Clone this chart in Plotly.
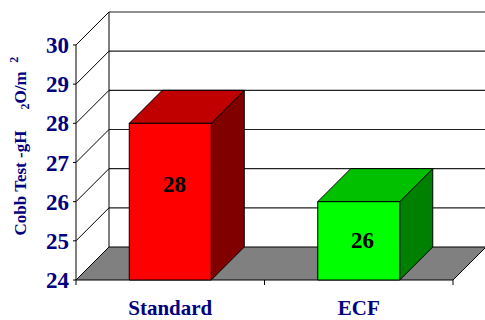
import plotly.graph_objects as go

# ---- data ----
categories = ["Standard", "ECF"]
values = [28, 26]
value_labels = ["28", "26"]
y_ticks = [24, 25, 26, 27, 28, 29, 30]
y_min, y_max = 24, 30
label_offsets = [0.43, 0.0]   # label lift above face midpoint (value units)

front_colors = ["#FF0000", "#00FF00"]
top_colors = ["#C00000", "#00C000"]
side_colors = ["#800000", "#008000"]

# ---- geometry (pixel scale of the oblique projection) ----
W, H = 485, 320
PX_CAT = 188.5      # px per category
PX_VAL = 39.17      # px per value unit
DEPTH_PX = 33       # oblique depth offset in px
AXIS_X, FLOOR_Y = 76, 280   # pixel position of front axis / floor front edge
L, R, T, B = 70, 0, 6, 30
plot_w = W - L - R
plot_h = H - T - B
x0 = -(AXIS_X - L) / PX_CAT
x_range = [x0, x0 + plot_w / PX_CAT]
y_lo = y_min - ((H - B) - FLOOR_Y) / PX_VAL
y_range = [y_lo, y_lo + plot_h / PX_VAL]
dx = DEPTH_PX / PX_CAT
dy = DEPTH_PX / PX_VAL
hw = 41 / PX_CAT
n = len(categories)
x_right = x_range[1] + 0.1

fig = go.Figure()

def poly(xs, ys, fill, lw=1, color="black"):
    fig.add_trace(go.Scatter(x=xs + [xs[0]], y=ys + [ys[0]], mode="lines",
                             fill="toself", fillcolor=fill,
                             line=dict(color=color, width=lw),
                             hoverinfo="skip", showlegend=False))

def seg(xs, ys, color="black", lw=1):
    fig.add_trace(go.Scatter(x=xs, y=ys, mode="lines",
                             line=dict(color=color, width=lw),
                             hoverinfo="skip", showlegend=False))

# floor
poly([0, n, n + dx, dx], [y_min, y_min, y_min + dy, y_min + dy], "#808080")

# back wall grid lines + left wall diagonals
for v in y_ticks:
    if v > y_min:
        seg([dx, x_right], [v + dy, v + dy], color="#222222", lw=1.2)
    seg([0, dx], [v, v + dy])
    seg([-3 / PX_CAT, 0], [v, v])          # y tick marks
seg([dx, dx], [y_min + dy, y_max + dy])   # back wall left edge
seg([0, 0], [y_min, y_max])               # front value axis

# x tick marks at category boundaries
for i in range(n + 1):
    seg([i, i], [y_min, y_min - 5 / PX_VAL])

# bars (front, top, side faces)
for i, v in enumerate(values):
    c = i + 0.5
    xl, xr = c - hw, c + hw
    poly([xr, xr + dx, xr + dx, xr], [y_min, y_min + dy, v + dy, v], side_colors[i])
    poly([xl, xr, xr + dx, xl + dx], [v, v, v + dy, v + dy], top_colors[i])
    poly([xl, xr, xr, xl], [y_min, y_min, v, v], front_colors[i])
    fig.add_annotation(x=c + 0.02, y=(v + y_min) / 2 + label_offsets[i],
                       text="<b>%s</b>" % value_labels[i], showarrow=False,
                       font=dict(family="Liberation Serif", size=23, color="black"))

fig.add_annotation(xref="paper", yref="paper",
                   x=(5 - L) / plot_w, y=(H - B - 146) / plot_h,
                   text="<b>Cobb Test -gH&nbsp;&nbsp;&nbsp;&nbsp; <sub>2</sub>O/m&nbsp; <sup>2</sup></b>",
                   textangle=-90, showarrow=False,
                   font=dict(family="Liberation Serif", size=17, color="#000080"))

fig.update_layout(
    width=W, height=H,
    margin=dict(l=L, r=R, t=T, b=B, autoexpand=False),
    paper_bgcolor="white", plot_bgcolor="white",
    showlegend=False,
    xaxis=dict(range=x_range, showgrid=False, zeroline=False, showline=False,
               automargin=False,
               tickmode="array", tickvals=[i + 0.5 for i in range(n)],
               ticktext=["<b>%s</b>" % c for c in categories], ticks="",
               ticklabelstandoff=3,
               tickfont=dict(family="Liberation Serif", size=21, color="#000080")),
    yaxis=dict(range=y_range, showgrid=False, zeroline=False, showline=False,
               automargin=False,
               tickmode="array", tickvals=y_ticks,
               ticktext=["<b>%d</b>" % t for t in y_ticks], ticks="",
               ticklabelstandoff=0,
               tickfont=dict(family="Liberation Serif", size=23, color="#000080")),
)

fig.write_html("out.html")
